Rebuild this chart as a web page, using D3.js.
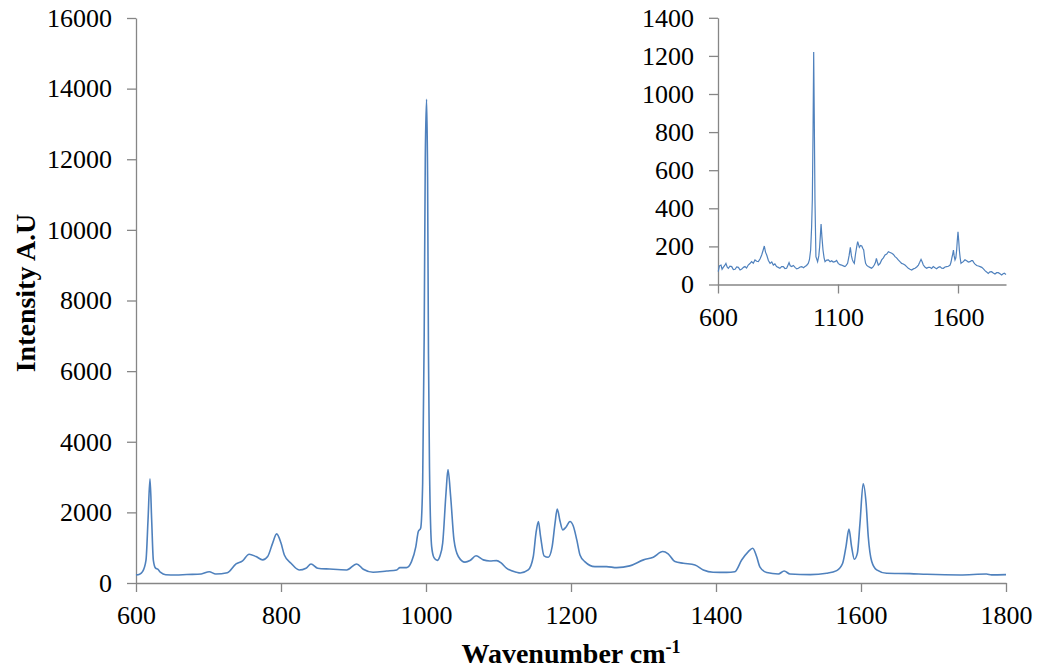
<!DOCTYPE html>
<html>
<head>
<meta charset="utf-8">
<script src="https://cdn.jsdelivr.net/npm/d3@7"></script>
<style>
  body { margin: 0; background: #fff; }
  svg { display: block; }
  .axis path, .axis line { stroke: #868686; stroke-width: 1.3; }
  .axis text { font-family: "Liberation Serif", "Times New Roman", serif; font-size: 26px; fill: #000; }
  .title { font-family: "Liberation Serif", "Times New Roman", serif; font-size: 28px; font-weight: bold; fill: #000; }
</style>
</head>
<body>
<div id="chart"></div>
<script>
"use strict";

// main spectrum
const mainWavenumber = [600, 605, 609, 613.8, 616.6, 619.3, 621.6, 623.9, 627, 630, 634, 641, 655, 670, 690, 701, 710, 726,
  738, 747, 756, 765.5, 774.7, 781.6, 788.5, 794, 800, 804.6, 813.8, 825, 834.5, 841.4, 850.6, 867, 890.6, 904.4, 913.5,
  927, 945.8, 959.6, 964, 973, 980, 986, 989.4, 992.6, 995.4, 997.5, 999, 1000.8, 1002.2, 1003.4, 1004.8, 1007.8, 1011,
  1015.6, 1019, 1023, 1027.6, 1030.3, 1034, 1038.6, 1044.6, 1053.8, 1060.7, 1069, 1079, 1088, 1097.5, 1104, 1111, 1125,
  1130, 1141, 1148, 1151.7, 1155, 1158, 1162.8, 1168.7, 1174, 1178, 1181, 1185, 1188.6, 1193, 1198.6, 1203, 1208, 1212.4,
  1219, 1233, 1249, 1263, 1281, 1300, 1313.5, 1326.5, 1334, 1343.4, 1355, 1371, 1382.5, 1396, 1414.8, 1426, 1435.4,
  1444.6, 1450.6, 1456, 1460.7, 1470, 1486, 1494, 1502, 1530, 1552.7, 1566.5, 1574.7, 1579.3, 1583.4, 1587, 1590.8, 1595,
  1598.6, 1603, 1607, 1610, 1614.8, 1621.6, 1635.4, 1667.6, 1690.6, 1736.6, 1773, 1780, 1800];
const mainIntensity = [230, 250, 320, 650, 1790, 2950, 1790, 650, 420, 390, 300, 235, 225, 240, 255, 320, 255, 290,
  540, 625, 815, 750, 655, 750, 1130, 1390, 1130, 795, 560, 370, 420, 540, 420, 395, 370, 540, 390,
  305, 340, 370, 435, 435, 606, 1030, 1460, 1550, 2830, 7000, 12000, 13700, 11500, 6500, 3300, 1030, 720,
  640, 750, 1130, 2550, 3210, 2450, 1220, 750, 590, 635, 770, 655, 625, 635, 560, 420, 305,
  285, 370, 750, 1410, 1740, 1320, 770, 730, 1030, 1695, 2095, 1740, 1505, 1580, 1740, 1620, 1220, 795,
  606, 465, 465, 435, 485, 655, 730, 890, 825, 606, 560, 510, 370, 305, 300, 320, 650,
  890, 985, 750, 450, 295, 255, 340, 255, 236, 275, 350, 560, 1030, 1525, 1030, 672, 845,
  1695, 2810, 2265, 1316, 606, 370, 275, 265, 246, 228, 256, 230, 236];

// inset spectrum
const insetWavenumber = [601, 606, 612.5, 617, 622, 628, 633, 638, 643, 650, 657, 664, 671, 678, 685, 692, 699, 706, 712.5,
  719, 726, 733, 740, 747, 754, 761, 768, 775, 782, 788, 793, 798, 803, 810, 817, 824, 830.5, 837, 844, 851, 858, 865,
  872, 879, 886, 891, 896, 901, 907, 914, 921, 928, 935, 942, 949, 956, 962.5, 969, 976, 981, 986, 990, 993, 996, 998.7,
  1001, 1004, 1008, 1015, 1020, 1023.6, 1029.5, 1033, 1037.5, 1042, 1046, 1053, 1060, 1067, 1073.6, 1080, 1087.5, 1094,
  1101, 1108, 1115, 1122, 1129, 1134, 1140, 1146, 1151.4, 1156, 1160, 1164, 1168, 1173, 1178, 1182, 1189, 1194, 1199,
  1203, 1207, 1211, 1215, 1220, 1226, 1233, 1240, 1246, 1251, 1256, 1260, 1264, 1268, 1275, 1282, 1289, 1296, 1303,
  1310, 1317, 1324, 1331, 1337.5, 1344, 1351, 1358, 1365, 1372, 1379, 1386, 1393, 1400, 1407, 1414, 1421, 1428, 1435,
  1440, 1446, 1451, 1455.5, 1462, 1469, 1476, 1483, 1490, 1497, 1504, 1511, 1518, 1525, 1532, 1539, 1546, 1553, 1560,
  1567, 1571, 1574, 1578, 1581, 1584, 1587.5, 1591, 1594.4, 1597, 1600, 1603, 1605.6, 1609, 1612.5, 1617, 1622, 1629,
  1636, 1643, 1650, 1656, 1661, 1666, 1671, 1678, 1685, 1692, 1699, 1706, 1712.5, 1719, 1726, 1733, 1740, 1747, 1754,
  1761, 1768, 1775, 1782, 1788, 1793, 1800];
const insetIntensity = [67, 98, 102, 80, 90, 100, 111, 92, 85, 96, 94, 78, 80, 92, 90, 76, 81, 90, 94,
  86, 102, 110, 120, 112, 129, 122, 120, 134, 155, 180, 202, 170, 155, 126, 111, 118, 102, 108, 94, 90, 85, 94,
  94, 84, 85, 100, 115, 98, 94, 100, 90, 82, 85, 92, 94, 88, 94, 100, 111, 130, 181, 300, 444, 800, 1220,
  900, 444, 146, 120, 150, 199, 317, 250, 181, 140, 120, 128, 129, 120, 125, 118, 120, 126,
  111, 104, 102, 98, 94, 100, 111, 150, 195, 150, 129, 118, 111, 160, 199, 225, 195, 205, 202,
  190, 181, 140, 111, 100, 94, 90, 85, 92, 102, 115, 137, 118, 102, 110, 129, 140, 155, 160,
  172, 168, 164, 158, 146, 140, 129, 120, 111, 108, 102, 94, 85, 80, 76, 82, 85, 92, 102,
  115, 132, 118, 102, 92, 85, 90, 90, 84, 94, 88, 83, 90, 94, 86, 85, 92, 94, 96,
  102, 118, 137, 160, 181, 150, 129, 140, 181, 230, 277, 230, 181, 140, 111, 116, 120, 130,
  125, 118, 120, 125, 125, 115, 107, 100, 97, 94, 90, 82, 73, 66, 58, 66, 67, 60, 55,
  62, 62, 56, 50, 56, 59, 53];

const mainXTicks = [600, 800, 1000, 1200, 1400, 1600, 1800];
const mainYTicks = [0, 2000, 4000, 6000, 8000, 10000, 12000, 14000, 16000];
const insetXTicks = [600, 1100, 1600];
const insetYTicks = [0, 200, 400, 600, 800, 1000, 1200, 1400];

const W = 1045, H = 671;
const lineColor = "#4f81bd";

const svg = d3.select("#chart")
  .append("svg")
  .attr("width", W)
  .attr("height", H);

// ---- main chart ----
const x = d3.scaleLinear().domain([600, 1800]).range([136, 1006]);
const y = d3.scaleLinear().domain([0, 16000]).range([583, 18]);

svg.append("g")
  .attr("class", "axis")
  .attr("transform", "translate(136,0)")
  .call(d3.axisLeft(y).tickValues(mainYTicks).tickSize(9).tickSizeOuter(0).tickPadding(15).tickFormat(d3.format("d")));

svg.append("g")
  .attr("class", "axis")
  .attr("transform", "translate(0,583)")
  .call(d3.axisBottom(x).tickValues(mainXTicks).tickSize(9).tickSizeOuter(0).tickPadding(14).tickFormat(d3.format("d")));

const mainData = mainWavenumber.map((w, i) => ({w: w, v: mainIntensity[i]}));

svg.append("path")
  .datum(mainData)
  .attr("fill", "none")
  .attr("stroke", lineColor)
  .attr("stroke-width", 1.6)
  .attr("d", d3.line()
    .curve(d3.curveMonotoneX)
    .x(d => x(d.w))
    .y(d => y(d.v))
  );

// ---- inset ----
const ix = d3.scaleLinear().domain([600, 1800]).range([718, 1006]);
const iy = d3.scaleLinear().domain([0, 1400]).range([284.5, 17.8]);

svg.append("g")
  .attr("class", "axis")
  .attr("transform", "translate(718,0)")
  .call(d3.axisLeft(iy).tickValues(insetYTicks).tickSize(9).tickSizeOuter(0).tickPadding(15).tickFormat(d3.format("d")));

svg.append("g")
  .attr("class", "axis")
  .attr("transform", "translate(0,284.5)")
  .call(d3.axisBottom(ix).tickValues(insetXTicks).tickSize(9).tickSizeOuter(0).tickPadding(14).tickFormat(d3.format("d")));

const insetData = insetWavenumber.map((w, i) => ({w: w, v: insetIntensity[i]}));

svg.append("path")
  .datum(insetData)
  .attr("fill", "none")
  .attr("stroke", lineColor)
  .attr("stroke-width", 1.2)
  .attr("d", d3.line()
    .x(d => ix(d.w))
    .y(d => iy(d.v))
  );

// axis titles
svg.append("text")
  .attr("class", "title")
  .attr("text-anchor", "middle")
  .attr("transform", "translate(35,293) rotate(-90)")
  .text("Intensity A.U");

const xTitle = svg.append("text")
  .attr("class", "title")
  .attr("text-anchor", "middle")
  .attr("x", 571)
  .attr("y", 663);
xTitle.append("tspan").text("Wavenumber cm");
xTitle.append("tspan").attr("dy", -10).style("font-size", "18px").text("-1");
</script>
</body>
</html>
